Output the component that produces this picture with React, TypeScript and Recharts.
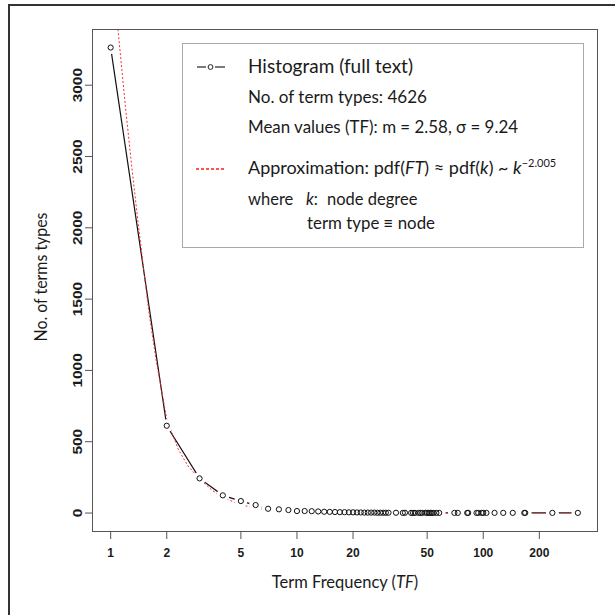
import React from 'react';
import { LineChart, Line, XAxis, YAxis } from 'recharts';

// histogram of term frequencies (TF value -> number of term types)
const tfValues = [
  1, 2, 3, 4, 5, 6, 7, 8, 9, 10, 11, 12, 13, 14, 15, 16, 17, 18, 19, 20,
  21, 22, 23, 24, 25, 26, 27, 28, 29, 30, 31, 34, 37, 38, 41, 42, 43, 45, 46, 47,
  49, 50, 51, 52, 53, 54, 56, 58, 70, 73, 82, 83, 92, 94, 98, 100, 104, 115, 128, 144,
  166, 168, 235, 322,
];
const termCounts = [
  3264, 612, 243, 124, 84, 56, 30, 26, 21, 14, 14, 13, 11, 9, 8, 7, 6, 6, 5, 5,
  4, 4, 3, 3, 3, 3, 2, 2, 2, 2, 2, 2, 1, 2, 1, 1, 1, 1, 1, 1,
  2, 1, 1, 1, 1, 1, 1, 1, 1, 1, 1, 1, 1, 1, 1, 1, 1, 1, 1, 1,
  1, 1, 1, 1,
];

// red approximation curve
const fitTF = [1.07, 1.094, 1.2, 1.3, 1.4, 1.5, 1.6, 1.75, 1.9, 2, 2.3, 2.6, 3, 3.5, 4, 5, 6, 7, 8, 10, 13, 16, 20, 30, 50, 80, 130, 200, 330];
const fitCounts = [3560, 3394, 2850, 2420, 2050, 1720, 1420, 1080, 820, 660, 450, 330, 240, 160, 108, 58, 34, 22, 15, 9, 5, 3, 2, 1, 0, 0, 0, 0, 0];

const xTicks = [1, 2, 5, 10, 20, 50, 100, 200];
const yTicks = [0, 500, 1000, 1500, 2000, 2500, 3000];

const histData = tfValues.map((x, i) => ({ x, y: termCounts[i] }));
const fitData = fitTF.map((x, i) => ({ x, y: fitCounts[i] }));

const axisFont = '"Liberation Sans", Arial, sans-serif';
const labelFont = 'Lato, "Noto Sans", sans-serif';

const XTick = (p: any) => (
  <text x={p.x} y={p.y + 16} textAnchor="middle" fontFamily={axisFont} fontSize={12} fontWeight="bold" fill="#1a1a1a">
    {p.payload.value}
  </text>
);

const YTick = (p: any) => {
  const s = String(p.payload.value);
  return (
    <text
      x={0}
      y={0}
      transform={`translate(${p.x - 1.5},${p.y}) rotate(-90)`}
      textAnchor="middle"
      fontFamily={axisFont}
      fontSize={12}
      fontWeight="bold"
      fill="#1a1a1a"
      textLength={s.length * 8.6}
      lengthAdjust="spacingAndGlyphs"
    >
      {s}
    </text>
  );
};

const Halo = (p: any) => <circle key={'h' + p.index} cx={p.cx} cy={p.cy} r={6.5} fill="#fff" stroke="none" />;
const Ring = (p: any) => <circle key={'r' + p.index} cx={p.cx} cy={p.cy} r={2.6} fill="none" stroke="#111" strokeWidth={1} />;

export default function App() {
  return (
    <div style={{ position: 'absolute', left: 0, top: 0, width: 615, height: 615, background: '#fff', overflow: 'hidden' }}>
      <div style={{ position: 'absolute', left: 8, top: 4, width: 700, height: 700, borderLeft: '2px solid #333', borderTop: '2px solid #333' }} />
      <LineChart width={615} height={615} margin={{ top: 29, right: 17, bottom: 53, left: 0 }}>
        <XAxis
          type="number"
          dataKey="x"
          scale="log"
          domain={[0.794, 413]}
          allowDataOverflow
          ticks={xTicks}
          height={30}
          axisLine={false}
          tickSize={7}
          tickLine={{ stroke: '#555' }}
          tick={XTick}
        />
        <YAxis
          type="number"
          dataKey="y"
          domain={[-133, 3394]}
          allowDataOverflow
          ticks={yTicks}
          width={92}
          axisLine={false}
          tickSize={7}
          tickLine={{ stroke: '#555' }}
          tick={YTick}
        />
        <Line data={histData} dataKey="y" type="linear" stroke="#111" strokeWidth={1.2} dot={false} isAnimationActive={false} />
        <Line data={histData} dataKey="y" type="linear" stroke="none" dot={Halo} isAnimationActive={false} />
        <Line data={fitData} dataKey="y" type="linear" stroke="#ff2a2a" strokeWidth={1} strokeDasharray="2 2" dot={false} isAnimationActive={false} />
        <Line data={histData} dataKey="y" type="linear" stroke="none" dot={Ring} isAnimationActive={false} />
      </LineChart>
      <div style={{ position: 'absolute', left: 92, top: 29, width: 506, height: 503, boxSizing: 'border-box', border: '1.5px solid #555' }} />
      <div style={{ position: 'absolute', left: 182, top: 43, width: 402, height: 205, boxSizing: 'border-box', border: '1.5px solid #aaa' }} />
      <svg width={615} height={615} style={{ position: 'absolute', left: 0, top: 0, pointerEvents: 'none' }}>
        <g fontFamily={labelFont} fill="#1a1a1a">
          {/* legend */}
          <line x1={197} y1={67} x2={206} y2={67} stroke="#222" strokeWidth={1.2} />
          <circle cx={210.5} cy={67} r={2.4} fill="none" stroke="#222" strokeWidth={1} />
          <line x1={215} y1={67} x2={225} y2={67} stroke="#222" strokeWidth={1.2} />
          <line x1={196} y1={169} x2={226} y2={169} stroke="#ff1a1a" strokeWidth={1.5} strokeDasharray="3 2" />
          <text x={248} y={72.5} fontSize={19} textLength={165} lengthAdjust="spacingAndGlyphs">Histogram (full text)</text>
          <text x={248} y={102.5} fontSize={16.5} textLength={179} lengthAdjust="spacingAndGlyphs">No. of term types: 4626</text>
          <text x={248} y={133} fontSize={16.5} textLength={270} lengthAdjust="spacingAndGlyphs">Mean values (TF): m = 2.58, σ = 9.24</text>
          <text x={248} y={174} fontSize={18}>
            Approximation: pdf(<tspan fontStyle="italic">FT</tspan>) ≈ pdf(<tspan fontStyle="italic">k</tspan>) ~ <tspan fontStyle="italic">k</tspan>
            <tspan fontSize={11} dy={-7}>−2.005</tspan>
          </text>
          <text x={248} y={205} fontSize={16.5}>
            where<tspan x={306} fontStyle="italic">k</tspan>:<tspan x={327}>node degree</tspan>
          </text>
          <text x={307} y={229} fontSize={16.5} textLength={128} lengthAdjust="spacingAndGlyphs">term type ≡ node</text>
          {/* axis titles */}
          <text x={345} y={588} fontSize={16.5} textAnchor="middle">
            Term Frequency (<tspan fontStyle="italic">TF</tspan>)
          </text>
          <text x={0} y={0} transform="translate(47,277) rotate(-90)" fontSize={16.5} textAnchor="middle" textLength={129} lengthAdjust="spacingAndGlyphs">
            No. of terms types
          </text>
        </g>
      </svg>
    </div>
  );
}
